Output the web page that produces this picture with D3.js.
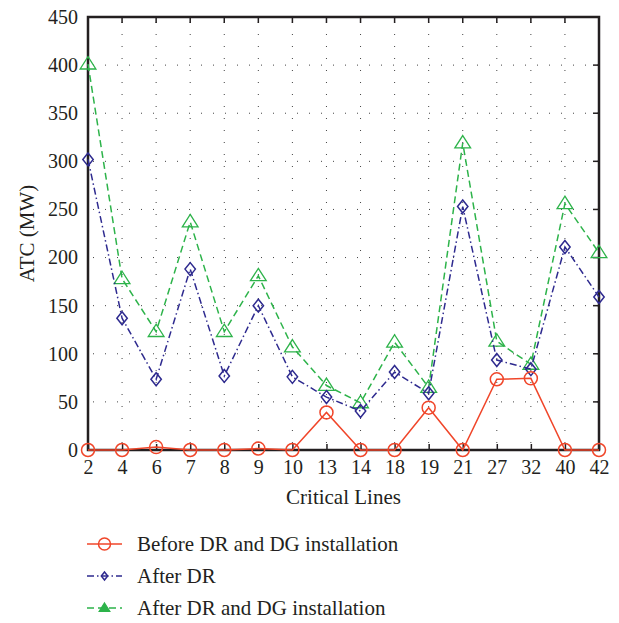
<!DOCTYPE html>
<html>
<head>
<meta charset="utf-8">
<script src="https://cdn.jsdelivr.net/npm/d3@7"></script>
<style>
  body { margin: 0; background: #fff; }
  text { font-family: "Liberation Serif", "DejaVu Serif", serif; fill: #231f20; }
</style>
</head>
<body>
<div id="chart"></div>
<script>
// data
const lines = ['2', '4', '6', '7', '8', '9', '10', '13', '14', '18', '19', '21', '27', '32', '40', '42']
const beforeDR = [0, 0, 3, 0, 0, 1.5, 0, 39, 0, 0, 44, 0, 73.5, 74.5, 0, 0]
const afterDR = [302, 137, 73.5, 188, 77, 150, 76, 55, 40.5, 81, 59, 253, 93.5, 84, 211, 159]
const afterDRDG = [401, 178, 123, 237, 123, 181, 107, 67, 49, 112, 65, 319, 113, 89, 256, 205]
const yTicks = [0, 50, 100, 150, 200, 250, 300, 350, 400, 450]

const series = [
    { name: 'Before DR and DG installation', values: beforeDR, color: '#f0462a', dash: null, marker: 'circle' },
    { name: 'After DR', values: afterDR, color: '#2e2a8f', dash: '7,3,1.5,3', marker: 'diamond' },
    { name: 'After DR and DG installation', values: afterDRDG, color: '#2db34a', dash: '7,4', marker: 'triangle' },
]

let dimensions = {
    width: 619,
    height: 623,
    margin: { top: 17, right: 20, bottom: 173, left: 88 },
}
dimensions.innerWidth = dimensions.width - dimensions.margin.left - dimensions.margin.right
dimensions.innerHeight = dimensions.height - dimensions.margin.top - dimensions.margin.bottom

const outer = d3.select('#chart').append('svg')
    .attr('width', dimensions.width)
    .attr('height', dimensions.height)

const inner = outer.append('g')
    .attr('transform', `translate(${dimensions.margin.left},${dimensions.margin.top})`)

const xScale = d3.scalePoint()
    .domain(lines)
    .range([0, dimensions.innerWidth])

const yScale = d3.scaleLinear()
    .domain([0, 450])
    .range([dimensions.innerHeight, 0])

// dotted grid
inner.append('g').selectAll('line.gx')
    .data(lines.slice(1, -1))
    .join('line')
    .attr('x1', d => xScale(d)).attr('x2', d => xScale(d))
    .attr('y1', 0).attr('y2', dimensions.innerHeight)
    .attr('stroke', '#444').attr('stroke-width', 1)
    .attr('stroke-dasharray', '1,11')
    .attr('stroke-dashoffset', -5)

inner.append('g').selectAll('line.gy')
    .data(yTicks.slice(1, -1))
    .join('line')
    .attr('x1', 0).attr('x2', dimensions.innerWidth)
    .attr('y1', d => yScale(d)).attr('y2', d => yScale(d))
    .attr('stroke', '#444').attr('stroke-width', 1)
    .attr('stroke-dasharray', '1,11')
    .attr('stroke-dashoffset', -5)

// axes
const xAxis = d3.axisBottom(xScale).tickSize(-6).tickPadding(10)
const xAxisGroup = inner.append('g')
    .attr('transform', `translate(0,${dimensions.innerHeight})`)
    .call(xAxis)
xAxisGroup.select('.domain').remove()
xAxisGroup.selectAll('text').style('font-size', '20px').attr('dy', '0.72em')
xAxisGroup.selectAll('line').attr('stroke', '#231f20').attr('stroke-width', 1.5)

const yAxis = d3.axisLeft(yScale).tickValues(yTicks).tickSize(0).tickPadding(10)
const yAxisGroup = inner.append('g').call(yAxis)
yAxisGroup.select('.domain').remove()
yAxisGroup.selectAll('text').style('font-size', '20px')

// ticks on top and right
inner.append('g').selectAll('line')
    .data(lines.slice(1, -1))
    .join('line')
    .attr('x1', d => xScale(d)).attr('x2', d => xScale(d))
    .attr('y1', 0).attr('y2', 6)
    .attr('stroke', '#231f20').attr('stroke-width', 1.5)
inner.append('g').selectAll('line')
    .data(yTicks.slice(1, -1))
    .join('line')
    .attr('x1', dimensions.innerWidth).attr('x2', dimensions.innerWidth - 6)
    .attr('y1', d => yScale(d)).attr('y2', d => yScale(d))
    .attr('stroke', '#231f20').attr('stroke-width', 1.5)

// frame
inner.append('rect')
    .attr('width', dimensions.innerWidth)
    .attr('height', dimensions.innerHeight)
    .attr('fill', 'none')
    .attr('stroke', '#231f20')
    .attr('stroke-width', 2.5)

// labels
inner.append('text')
    .attr('x', dimensions.innerWidth / 2)
    .attr('y', dimensions.innerHeight + 54)
    .attr('text-anchor', 'middle')
    .style('font-size', '21px')
    .text('Critical Lines')

outer.append('text')
    .attr('transform', `translate(34,${dimensions.margin.top + dimensions.innerHeight / 2}) rotate(-90)`)
    .attr('text-anchor', 'middle')
    .style('font-size', '21px')
    .text('ATC (MW)')

// series
const lineGenerator = d3.line()
    .x((d, i) => xScale(lines[i]))
    .y(d => yScale(d))

const drawMarker = (g, type, color, x, y, small) => {
    if (type === 'circle') {
        g.append('circle').attr('cx', x).attr('cy', y).attr('r', small ? 6 : 6.5)
            .attr('fill', 'none').attr('stroke', color).attr('stroke-width', 1.5)
    } else if (type === 'diamond') {
        const r = small ? 4 : 6.5
        g.append('path')
            .attr('d', `M${x},${y - r}L${x + r * 0.8},${y}L${x},${y + r}L${x - r * 0.8},${y}Z`)
            .attr('fill', 'none').attr('stroke', color).attr('stroke-width', 1.5)
    } else {
        const r = small ? 5 : 7.5
        g.append('path')
            .attr('d', `M${x},${y - r}L${x + r * 1.05},${y + r * 0.65}L${x - r * 1.05},${y + r * 0.65}Z`)
            .attr('fill', small ? color : 'none').attr('stroke', color).attr('stroke-width', 1.3)
    }
}

series.slice().reverse().forEach(s => {
    inner.append('path')
        .attr('d', lineGenerator(s.values))
        .attr('fill', 'none')
        .attr('stroke', s.color)
        .attr('stroke-width', 1.5)
        .attr('stroke-dasharray', s.dash)
    const mg = inner.append('g')
    s.values.forEach((v, i) => drawMarker(mg, s.marker, s.color, xScale(lines[i]), yScale(v), false))
})

// legend
const legend = outer.append('g').attr('transform', 'translate(87,544)')
series.forEach((s, i) => {
    const row = legend.append('g').attr('transform', `translate(0,${i * 32})`)
    row.append('line')
        .attr('x1', 0).attr('x2', 35).attr('y1', 0).attr('y2', 0)
        .attr('stroke', s.color).attr('stroke-width', 1.5)
        .attr('stroke-dasharray', s.dash)
    drawMarker(row, s.marker, s.color, 17.5, 0, true)
    row.append('text')
        .attr('x', 50).attr('y', 0).attr('dy', '0.35em')
        .style('font-size', '21px')
        .text(s.name)
})
</script>
</body>
</html>
